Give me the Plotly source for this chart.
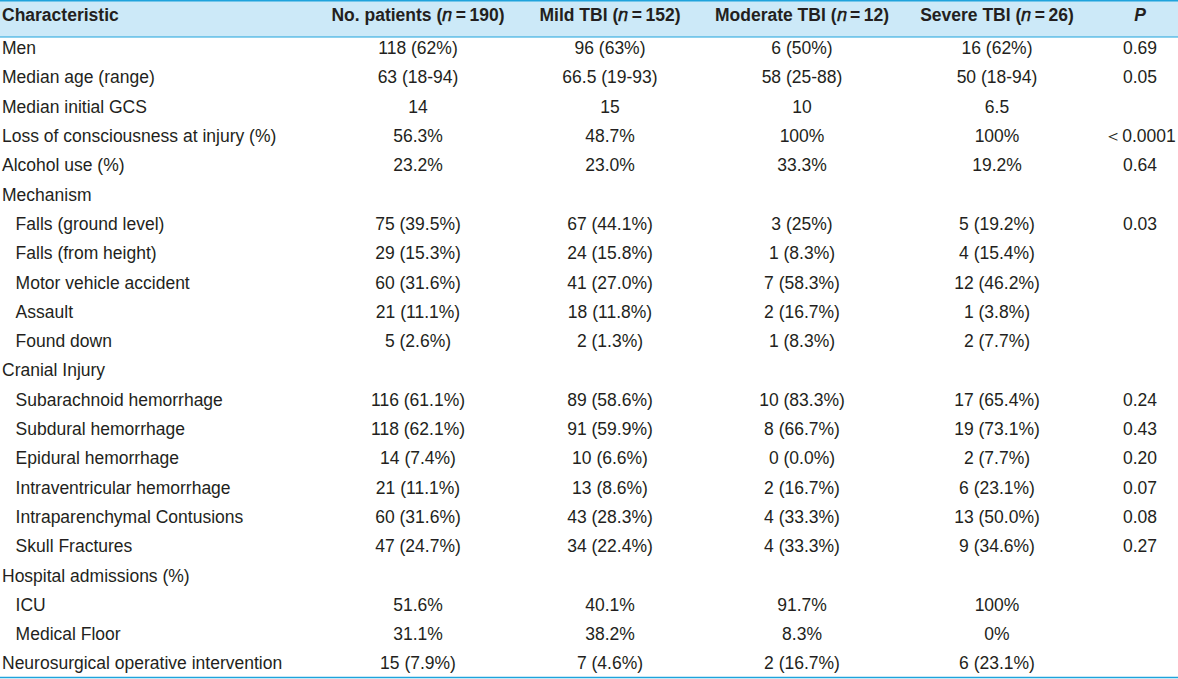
import plotly.graph_objects as go

NB = "\u00a0"
INDENT = "\u2002\u00a0"
N_IT = "\U0001D45B"   # mathematical italic small n

headers = [
    "Characteristic",
    "No. patients (" + N_IT + "\u2009=\u2009190)",
    "Mild TBI (" + N_IT + "\u2009=\u2009152)",
    "Moderate TBI (" + N_IT + "\u2009=\u200912)",
    "Severe TBI (" + N_IT + "\u2009=\u200926)",
    "P",
]

characteristics = [
    ("Men", 0),
    ("Median age (range)", 0),
    ("Median initial GCS", 0),
    ("Loss of consciousness at injury (%)", 0),
    ("Alcohol use (%)", 0),
    ("Mechanism", 0),
    ("Falls (ground level)", 1),
    ("Falls (from height)", 1),
    ("Motor vehicle accident", 1),
    ("Assault", 1),
    ("Found down", 1),
    ("Cranial Injury", 0),
    ("Subarachnoid hemorrhage", 1),
    ("Subdural hemorrhage", 1),
    ("Epidural hemorrhage", 1),
    ("Intraventricular hemorrhage", 1),
    ("Intraparenchymal Contusions", 1),
    ("Skull Fractures", 1),
    ("Hospital admissions (%)", 0),
    ("ICU", 1),
    ("Medical Floor", 1),
    ("Neurosurgical operative intervention", 0),
]

all_patients = ["118 (62%)", "63 (18-94)", "14", "56.3%", "23.2%", "",
                "75 (39.5%)", "29 (15.3%)", "60 (31.6%)", "21 (11.1%)", "5 (2.6%)", "",
                "116 (61.1%)", "118 (62.1%)", "14 (7.4%)", "21 (11.1%)", "60 (31.6%)", "47 (24.7%)", "",
                "51.6%", "31.1%", "15 (7.9%)"]
mild_tbi = ["96 (63%)", "66.5 (19-93)", "15", "48.7%", "23.0%", "",
            "67 (44.1%)", "24 (15.8%)", "41 (27.0%)", "18 (11.8%)", "2 (1.3%)", "",
            "89 (58.6%)", "91 (59.9%)", "10 (6.6%)", "13 (8.6%)", "43 (28.3%)", "34 (22.4%)", "",
            "40.1%", "38.2%", "7 (4.6%)"]
moderate_tbi = ["6 (50%)", "58 (25-88)", "10", "100%", "33.3%", "",
                "3 (25%)", "1 (8.3%)", "7 (58.3%)", "2 (16.7%)", "1 (8.3%)", "",
                "10 (83.3%)", "8 (66.7%)", "0 (0.0%)", "2 (16.7%)", "4 (33.3%)", "4 (33.3%)", "",
                "91.7%", "8.3%", "2 (16.7%)"]
severe_tbi = ["16 (62%)", "50 (18-94)", "6.5", "100%", "19.2%", "",
              "5 (19.2%)", "4 (15.4%)", "12 (46.2%)", "1 (3.8%)", "2 (7.7%)", "",
              "17 (65.4%)", "19 (73.1%)", "2 (7.7%)", "6 (23.1%)", "13 (50.0%)", "9 (34.6%)", "",
              "100%", "0%", "6 (23.1%)"]
p_values = ["0.69", "0.05", "", "\uFF1C0.0001", "0.64", "",
            "0.03", "", "", "", "", "",
            "0.24", "0.43", "0.20", "0.07", "0.08", "0.27", "",
            "", "", ""]

labels = [(INDENT if ind else "") + name.replace(" ", NB) for name, ind in characteristics]

def nb(lst):
    return [s.replace(" ", NB) for s in lst]

header_vals = [h.replace(" ", NB) for h in headers]

TEXT = "#231f20"
LINE = "#1fa3dc"
HEAD_BG = "#cce9f8"
FONT = "Liberation Sans, Arial, sans-serif"
FS = 17.5
SHIFT = 6  # page shifted left so the first column text sits near the edge
W = 1178 + SHIFT

fig = go.Figure(go.Table(
    columnwidth=[328 + SHIFT, 180, 204, 180, 210, 76],
    header=dict(
        values=header_vals,
        fill_color=HEAD_BG,
        line=dict(color=HEAD_BG, width=0),
        align=["left", "center", "center", "center", "center", "center"],
        font=dict(family=FONT, size=FS, color=TEXT, weight="bold",
                  style=["normal", "normal", "normal", "normal", "normal", "italic"]),
        height=33,
    ),
    cells=dict(
        values=[labels, nb(all_patients), nb(mild_tbi), nb(moderate_tbi), nb(severe_tbi), nb(p_values)],
        fill_color="white",
        line=dict(color="white", width=0),
        align=["left", "center", "center", "center", "center", "center"],
        font=dict(family=FONT, size=FS, color=TEXT),
        height=29.3,
    ),
    domain=dict(x=[0, 1], y=[0, 1]),
))

H = 679.0
fig.update_layout(
    width=W, height=679,
    margin=dict(l=0, r=0, t=0, b=0),
    paper_bgcolor="white",
    shapes=[
        dict(type="rect", xref="paper", yref="paper", x0=0, x1=1,
             y0=1 - 37 / H, y1=1 - 32.5 / H, fillcolor=HEAD_BG, line=dict(width=0)),
        dict(type="line", xref="paper", yref="paper", x0=0, x1=1,
             y0=1 - 0.75 / H, y1=1 - 0.75 / H, line=dict(color=LINE, width=1.5)),
        dict(type="line", xref="paper", yref="paper", x0=0, x1=1,
             y0=1 - 37 / H, y1=1 - 37 / H, line=dict(color=LINE, width=1)),
        dict(type="line", xref="paper", yref="paper", x0=0, x1=1,
             y0=1 - 677.5 / H, y1=1 - 677.5 / H, line=dict(color=LINE, width=1.5)),
    ],
)

fig.write_html(
    "out.html",
    config={"displayModeBar": False},
    post_script=("document.body.style.margin='0px';"
                 "document.body.style.marginLeft='-%dpx';"
                 "document.body.style.overflow='hidden';" % SHIFT),
)
